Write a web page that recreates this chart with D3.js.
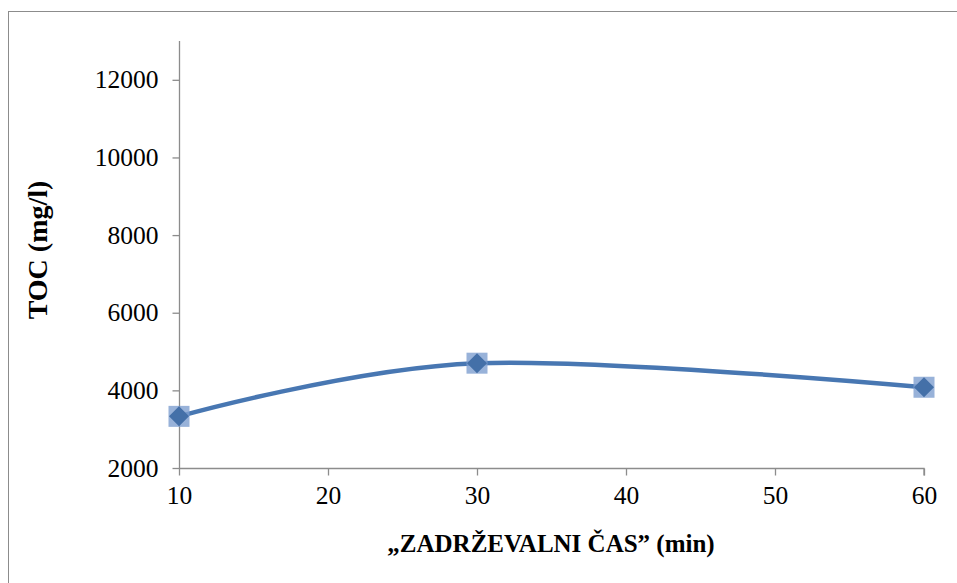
<!DOCTYPE html>
<html>
<head>
<meta charset="utf-8">
<script src="https://cdn.jsdelivr.net/npm/d3@7"></script>
<style>
  html, body { margin: 0; padding: 0; background: #fff; }
  svg { display: block; }
</style>
</head>
<body>
<svg id="chart" width="957" height="583"></svg>
<script>
// Retention time (min) vs. TOC (mg/l)
const times = [10, 30, 60];
const toc = [3330, 4700, 4080];
const xTicks = [10, 20, 30, 40, 50, 60];
const yTicks = [2000, 4000, 6000, 8000, 10000, 12000];

const svg = d3.select("#chart");
const W = 957, H = 583;
const m = { left: 179, right: 957 - 924, top: 41, bottom: 583 - 468 };

// outer chart frame
svg.append("rect")
  .attr("x", 8.5).attr("y", 11.5)
  .attr("width", W + 20).attr("height", H + 20)
  .attr("fill", "none").attr("stroke", "#8c8c8c").attr("stroke-width", 1);

const x = d3.scaleLinear().domain([10, 60]).range([m.left, W - m.right]);
const y = d3.scaleLinear().domain([2000, 13000]).range([H - m.bottom, m.top]);

const font = "'Liberation Serif', 'DejaVu Serif', serif";

// y axis
const yAxis = svg.append("g")
  .attr("transform", `translate(${m.left + 0.5},0)`)
  .call(d3.axisLeft(y).tickValues(yTicks).tickSize(7).tickPadding(14).tickFormat(d3.format("d")));
// x axis
const xAxis = svg.append("g")
  .attr("transform", `translate(0,${H - m.bottom + 0.5})`)
  .call(d3.axisBottom(x).tickValues(xTicks).tickSize(7).tickPadding(10).tickFormat(d3.format("d")));

[yAxis, xAxis].forEach(g => {
  g.select(".domain").attr("stroke", "#8c8c8c").attr("stroke-width", 1.3);
  g.selectAll(".tick line").attr("stroke", "#8c8c8c").attr("stroke-width", 1.3);
  g.selectAll(".tick text")
    .attr("fill", "#000")
    .style("font-family", font)
    .style("font-size", "25.5px");
});
// y axis runs up to the top of the plot; x axis ends in a short drop
yAxis.select(".domain").attr("d", `M0,${y(2000)}V${m.top}`);
xAxis.select(".domain").attr("d", `M${m.left},0H${W - m.right}V7`);

// axis titles
svg.append("text")
  .attr("x", 551).attr("y", 552)
  .attr("text-anchor", "middle")
  .style("font-family", font).style("font-size", "25px").style("font-weight", "bold")
  .text("„ZADRŽEVALNI ČAS” (min)");

svg.append("text")
  .attr("transform", `translate(47,250) rotate(-90)`)
  .attr("text-anchor", "middle")
  .style("font-family", font).style("font-size", "28px").style("font-weight", "bold")
  .text("TOC (mg/l)");

const pts = times.map((t, i) => [t, toc[i]]);

// smoothed series line
const line = d3.line()
  .x(d => x(d[0])).y(d => y(d[1]))
  .curve(d3.curveCardinal.tension(0));

svg.append("path")
  .datum(pts)
  .attr("d", line)
  .attr("fill", "none")
  .attr("stroke", "#4877b2")
  .attr("stroke-width", 4.5)
  .attr("stroke-linecap", "round");

// markers: soft square glow behind a diamond
const mk = svg.append("g").selectAll("g").data(pts).join("g")
  .attr("transform", d => `translate(${x(d[0])},${y(d[1])})`);
mk.append("rect")
  .attr("x", -10.5).attr("y", -10.5).attr("width", 21).attr("height", 21)
  .attr("fill", "#7e9fd0").attr("opacity", 0.8);
mk.append("path")
  .attr("d", "M0,-10L10,0L0,10L-10,0Z")
  .attr("fill", "#4470a8");
</script>
</body>
</html>
